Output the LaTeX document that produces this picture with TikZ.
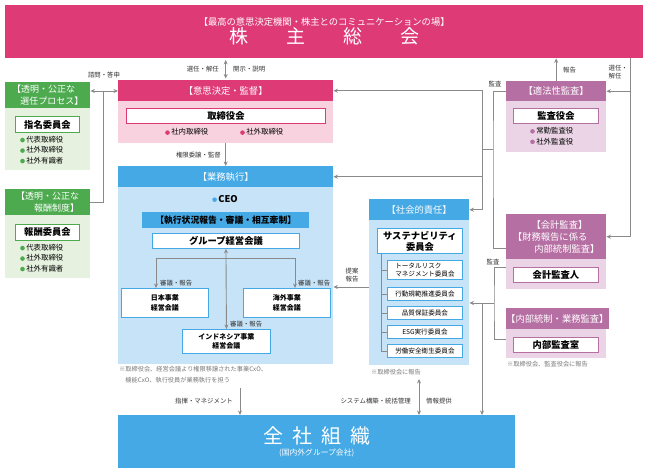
\documentclass[tikz,border=0pt]{standalone}
\usepackage{fontspec}
\setmainfont{Noto Sans CJK JP}
\usetikzlibrary{arrows.meta}

\definecolor{pinkH}{HTML}{DE3A76}
\definecolor{pinkB}{HTML}{F8D3DF}
\definecolor{greenH}{HTML}{4DAA4F}
\definecolor{greenB}{HTML}{E6F1DF}
\definecolor{blueH}{HTML}{45A9E5}
\definecolor{blueB}{HTML}{C6E3F7}
\definecolor{purpH}{HTML}{B66FA3}
\definecolor{purpB}{HTML}{EAD4E5}
\definecolor{lineg}{HTML}{8A8A8A}
\definecolor{txtg}{HTML}{333333}
\definecolor{noteg}{HTML}{7A7A7A}

\newcommand{\bul}[1]{\textcolor{#1}{\tikz[baseline=-0.55ex]\fill (0,0) circle (2.3pt);}\hspace{1.5pt}}

\tikzset{
  box/.style 2 args={anchor=north west, inner sep=0pt, minimum width=#1pt, minimum height=#2pt},
  hdr/.style={text=white, font=\fontsize{9.3}{12}\selectfont, align=center},
  wbox/.style={fill=white, draw, line width=0.9pt, font=\fontsize{9.3}{11}\selectfont\bfseries, align=center},
  sbox/.style={fill=white, draw=blueH, line width=0.9pt, font=\fontsize{6.6}{8}\selectfont, align=left},
  blist/.style={anchor=west, inner sep=0pt, font=\fontsize{7.4}{10.5}\selectfont, align=left},
  lbl/.style={inner sep=0pt, text=txtg, font=\fontsize{6.4}{8.5}\selectfont, align=left},
  note/.style={anchor=west, inner sep=0pt, text=noteg, font=\fontsize{6.2}{11}\selectfont, align=left},
  conn/.style={draw=lineg, line width=0.9pt},
  arr/.style={conn, -{Stealth[length=4.5pt,width=4pt]}},
  darr/.style={conn, {Stealth[length=4.5pt,width=4pt]}-{Stealth[length=4.5pt,width=4pt]}}
}

\begin{document}
\begin{tikzpicture}[x=1pt, y=-1pt]
\useasboundingbox[fill=white] (0,0) rectangle (648,473);

% shareholders meeting
\node[box={638}{53}, fill=pinkH, text=white, align=center] (agm) at (5,5)
  {{\fontsize{9.3}{11}\selectfont 【最高の意思決定機関・株主とのコミュニケーションの場】}\\[0pt]
   {\fontsize{19}{21}\selectfont 株\hspace{38pt}主\hspace{38pt}総\hspace{38pt}会}};

% green committees
\node[box={85}{26}, fill=greenH, hdr, align=left, font=\fontsize{9}{12}\selectfont] (nomH) at (5,82) {【透明・公正な\\\hspace*{0.9em}選任プロセス】};
\node[box={85}{62}, fill=greenB] (nomB) at (5,108) {};
\node[box={64}{16}, wbox, draw=greenH] (nomW) at (15,116) {指名委員会};
\node[blist] (nomL) at (20,150) {\bul{greenH}代表取締役\\\bul{greenH}社外取締役\\\bul{greenH}社外有識者};

\node[box={85}{26}, fill=greenH, hdr, align=right, font=\fontsize{9}{12}\selectfont] (remH) at (5,189) {【透明・公正な\\報酬制度】};
\node[box={85}{63}, fill=greenB] (remB) at (5,215) {};
\node[box={64}{16}, wbox, draw=greenH] (remW) at (15,224) {報酬委員会};
\node[blist] (remL) at (20,258) {\bul{greenH}代表取締役\\\bul{greenH}社外取締役\\\bul{greenH}社外有識者};

% board
\node[box={215}{21}, fill=pinkH, hdr] (boardH) at (118,80) {【意思決定・監督】};
\node[box={215}{42}, fill=pinkB] (boardB) at (118,101) {};
\node[box={199}{15}, wbox, draw=pinkH] (boardW) at (126,108) {取締役会};
\node[blist] (boardL1) at (165,132) {\bul{pinkH}社内取締役};
\node[blist] (boardL2) at (240,132) {\bul{pinkH}社外取締役};

% execution
\node[box={215}{21}, fill=blueH, hdr] (execH) at (118,166) {【業務執行】};
\node[box={215}{177}, fill=blueB] (execB) at (118,187) {};
\node[inner sep=0pt, font=\fontsize{9.3}{11}\selectfont\bfseries] (ceo) at (225,199) {\bul{blueH}CEO};
\node[box={167}{16}, fill=blueH, font=\fontsize{8.8}{10}\selectfont\bfseries] (bar) at (142,212) {【執行状況報告・審議・相互牽制】};
\node[box={147}{15}, wbox, draw=blueH] (groupW) at (152,233) {グループ経営会議};
\node[box={87}{29}, wbox, draw=blueH, font=\fontsize{7}{9.5}\selectfont\bfseries] (japanW) at (121,288) {日本事業\\経営会議};
\node[box={87}{29}, wbox, draw=blueH, font=\fontsize{7}{9.5}\selectfont\bfseries] (overW) at (243,288) {海外事業\\経営会議};
\node[box={88}{24}, wbox, draw=blueH, font=\fontsize{7}{9.5}\selectfont\bfseries] (indoW) at (182,329) {インドネシア事業\\経営会議};
\node[note] (execN) at (119,375) {※取締役会、経営会議より権限移譲された事業CxO、\\\hspace*{1em}機能CxO、執行役員が業務執行を担う};

% social responsibility
\node[box={100}{21}, fill=blueH, hdr] (socH) at (369,199) {【社会的責任】};
\node[box={100}{145}, fill=blueB] (socB) at (369,220) {};
\node[box={85}{25}, wbox, draw=blueH] (susW) at (377,228) {サステナビリティ\\委員会};
\node[box={75}{19}, sbox] (c1) at (387,260) {トータルリスク\\マネジメント委員会};
\node[box={75}{13}, sbox] (c2) at (387,287) {行動規範推進委員会};
\node[box={75}{13}, sbox] (c3) at (387,306) {品質保証委員会};
\node[box={75}{13}, sbox] (c4) at (387,325) {ESG実行委員会};
\node[box={75}{13}, sbox] (c5) at (387,344) {労働安全衛生委員会};
\node[note] (socN) at (371,372) {※取締役会に報告};

% audit
\node[box={100}{20}, fill=purpH, hdr] (audH) at (506,81) {【適法性監査】};
\node[box={100}{51}, fill=purpB] (audB) at (506,101) {};
\node[box={85}{15}, wbox, draw=purpH] (audW) at (513,108) {監査役会};
\node[blist] (audL) at (530,136) {\bul{purpH}常勤監査役\\\bul{purpH}社外監査役};

\node[box={100}{45}, fill=purpH, hdr, align=left] (accH) at (506,214) {\hspace*{2em}【会計監査】\\【財務報告に係る\\\hspace*{2.3em}内部統制監査】};
\node[box={100}{30}, fill=purpB] (accB) at (506,259) {};
\node[box={85}{15}, wbox, draw=purpH] (accW) at (513,267) {会計監査人};

\node[box={100}{21}, fill=purpH, hdr] (intH) at (506,308) {【内部統制・業務監査】};
\node[box={100}{29}, fill=purpB] (intB) at (506,329) {};
\node[box={85}{15}, wbox, draw=purpH] (intW) at (513,337) {内部監査室};
\node[note] (intN) at (507,364) {※取締役会、監査役会に報告};

% group companies
\node[box={397}{53}, fill=blueH, text=white, align=center] (allco) at (118,415)
  {{\fontsize{20}{22}\selectfont 全\hspace{9pt}社\hspace{9pt}組\hspace{9pt}織}\\
   {\fontsize{7.8}{10}\selectfont (国内外グループ会社)}};

% connectors
\coordinate (jL) at (103,91);
\coordinate (selX) at (630,0);
\coordinate (jA) at (482,149);
\coordinate (jB) at (493,149);
\coordinate (accIn) at (506,248);
\coordinate (accOut) at (506,267);
\coordinate (intOut) at (506,339);
\coordinate (jC) at (494,303);
\coordinate (jD) at (482,303);
\coordinate (tL) at (156,258);
\coordinate (tR) at (295,258);
\coordinate (sT) at (381,0);
\coordinate (prop) at (369,287);
\coordinate (cmd) at (240,388);
\coordinate (sys) at (419,379);

\draw[darr, shorten <=1.5pt, shorten >=1.5pt] (agm.south -| boardH.north) -- (boardH.north);
\draw[arr] (audH.north) -- (agm.south -| audH.north);
\draw[conn] (agm.south -| selX) -- (accH.east -| selX);
\draw[arr] (audH.east -| selX) -- (audH.east);
\draw[arr] (accH.east -| selX) -- (accH.east);

\draw[darr] (nomH.east |- jL) -- (boardH.west |- jL);
\draw[conn] (remH.east) -| (jL);

\draw[arr] (boardB.south) -- (execH.north);

\draw[conn] (audH.west) -| (jB) |- (accIn);
\draw[conn] (jB) -- (jA);
\draw[arr] (jA) |- (boardH.east);
\draw[arr] (jA) |- (execH.east);
\draw[arr] (jA) |- (socH.east);

\draw[conn] (accOut) -| (jC) |- (intOut);
\draw[arr] (jC) -- (jC -| socB.east);
\draw[arr] (jD) -- (jD |- allco.north);

\draw[conn] (tL) -- (tR);
\draw[arr] (tL) -- (tL |- japanW.north);
\draw[arr] (tR) -- (tR |- overW.north);
\draw[darr] (groupW.south) -- (indoW.north);

\draw[conn] (susW.south -| sT) -- (c5.west -| sT);
\foreach \c in {c1,c2,c3,c4,c5}
  \draw[conn] (\c.west -| sT) -- (\c.west);

\draw[arr] (prop) -- (prop -| execB.east);
\draw[arr] (cmd) -- (cmd |- allco.north);
\draw[darr] (sys) -- (sys |- allco.north);

% labels
\node[lbl, anchor=east] (l1) at (219,69) {選任・解任};
\node[lbl, anchor=west] (l2) at (233,69) {開示・説明};
\node[lbl] (l3) at (104,75) {諮問・答申};
\node[lbl, anchor=west] (l4) at (563,70) {報告};
\node[lbl, anchor=east] (l5) at (628,72) {選任・\\解任};
\node[lbl, anchor=east] (l6) at (221,155) {権限委譲・監督};
\node[lbl, anchor=west] (l7) at (160,283) {審議・報告};
\node[lbl, anchor=west] (l8) at (298,283) {審議・報告};
\node[lbl, anchor=west] (l9) at (230,324) {審議・報告};
\node[lbl] (l10) at (352,275) {提案\\報告};
\node[lbl] (l11) at (495,84) {監査};
\node[lbl] (l12) at (493,262) {監査};
\node[lbl, anchor=east] (l13) at (233,401) {指揮・マネジメント};
\node[lbl, anchor=east] (l14) at (411,401) {システム構築・統括管理};
\node[lbl, anchor=west] (l15) at (426,401) {情報提供};
\end{tikzpicture}
\end{document}
